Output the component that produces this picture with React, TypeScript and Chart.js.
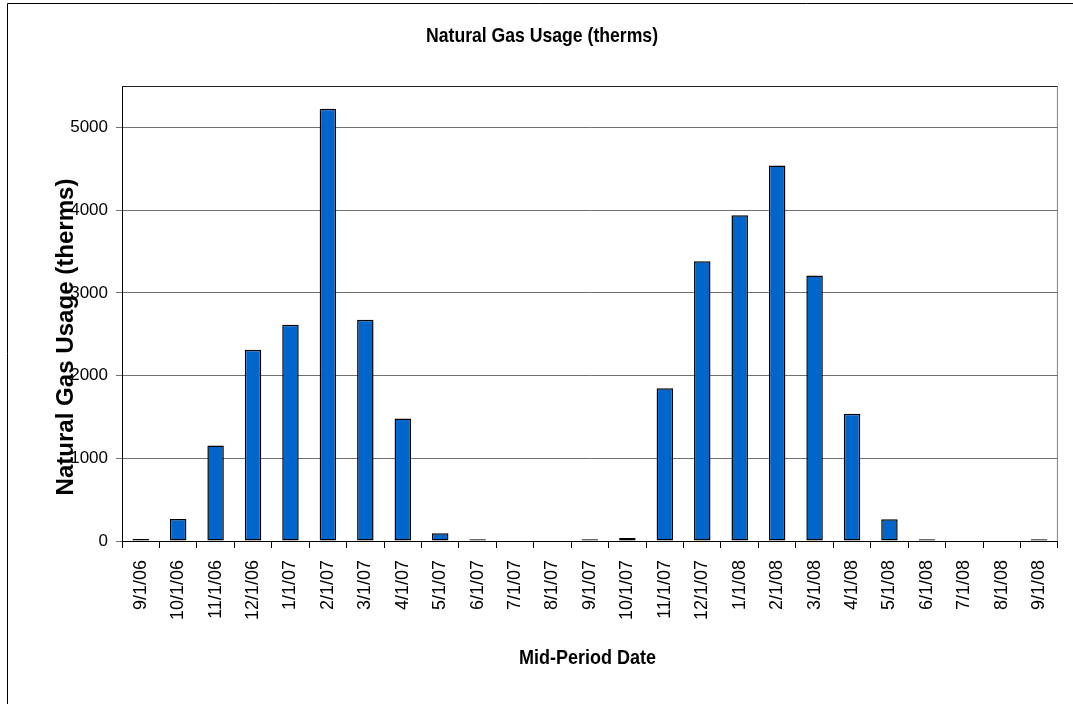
import React, { useEffect, useRef } from "react";
import { Chart, registerables } from "chart.js";

Chart.register(...registerables);

const dateLabels: string[] = [
  "9/1/06", "10/1/06", "11/1/06", "12/1/06", "1/1/07", "2/1/07", "3/1/07", "4/1/07",
  "5/1/07", "6/1/07", "7/1/07", "8/1/07", "9/1/07", "10/1/07", "11/1/07", "12/1/07",
  "1/1/08", "2/1/08", "3/1/08", "4/1/08", "5/1/08", "6/1/08", "7/1/08", "8/1/08", "9/1/08",
];

const gasUsage: number[] = [
  25, 266, 1153, 2311, 2613, 5226, 2673, 1480,
  93, 22, 0, 0, 22, 35, 1847, 3382,
  3938, 4540, 3209, 1537, 262, 22, 0, 0, 22,
];

const yTickValues: number[] = [0, 1000, 2000, 3000, 4000, 5000];
const yMax = 5500;

const chartTitle = "Natural Gas Usage (therms)";
const xAxisTitle = "Mid-Period Date";
const yAxisTitle = "Natural Gas Usage (therms)";

const FONT = "'Liberation Sans', Arial, Helvetica, sans-serif";

const decorPlugin = {
  id: "decor",
  beforeDraw(chart: any) {
    const ctx = chart.ctx;
    ctx.save();
    ctx.fillStyle = "#ffffff";
    ctx.fillRect(0, 0, chart.width, chart.height);
    ctx.restore();
  },
  afterDraw(chart: any) {
    const ctx = chart.ctx;
    const a = chart.chartArea;
    ctx.save();
    // outer frame (left and top edges visible)
    ctx.strokeStyle = "#000000";
    ctx.lineWidth = 1;
    ctx.beginPath();
    ctx.moveTo(7.5, chart.height);
    ctx.lineTo(7.5, 3.5);
    ctx.lineTo(chart.width, 3.5);
    ctx.stroke();

    // plot area border: top and right
    ctx.beginPath();
    ctx.strokeStyle = "#202020";
    ctx.moveTo(a.left, a.top + 0.5);
    ctx.lineTo(a.right, a.top + 0.5);
    ctx.stroke();
    ctx.beginPath();
    ctx.strokeStyle = "#808080";
    ctx.moveTo(a.right - 0.5, a.top);
    ctx.lineTo(a.right - 0.5, a.bottom);
    ctx.stroke();

    ctx.fillStyle = "#000000";
    // chart title (slightly condensed)
    ctx.font = `bold 21px ${FONT}`;
    ctx.textAlign = "center";
    ctx.textBaseline = "alphabetic";
    let w = ctx.measureText(chartTitle).width;
    ctx.save();
    ctx.translate(542, 42);
    ctx.scale(232 / w, 1);
    ctx.fillText(chartTitle, 0, 0);
    ctx.restore();

    // x axis title
    ctx.font = `bold 20px ${FONT}`;
    ctx.textAlign = "left";
    ctx.save();
    ctx.translate(519, 664);
    ctx.scale(0.9, 1);
    ctx.fillText(xAxisTitle, 0, 0);
    ctx.restore();

    // y axis title
    ctx.font = `bold 24px ${FONT}`;
    ctx.textAlign = "center";
    ctx.save();
    ctx.translate(73, 337);
    ctx.rotate(-Math.PI / 2);
    w = ctx.measureText(yAxisTitle).width;
    ctx.scale(317 / w, 1);
    ctx.fillText(yAxisTitle, 0, 0);
    ctx.restore();

    ctx.restore();
  },
};

export default function App() {
  const canvasRef = useRef<HTMLCanvasElement | null>(null);

  useEffect(() => {
    if (!canvasRef.current) return;
    const chart = new Chart(canvasRef.current, {
      type: "bar",
      data: {
        labels: dateLabels,
        datasets: [
          {
            label: "Natural Gas Usage (therms)",
            data: gasUsage,
            backgroundColor: "#0066CC",
            borderColor: "#000000",
            borderWidth: 1.5,
            borderSkipped: false,
            barPercentage: 0.44,
            categoryPercentage: 1.0,
          },
        ],
      },
      options: {
        responsive: false,
        maintainAspectRatio: false,
        animation: false,
        devicePixelRatio: 1,
        layout: { padding: { top: 86, right: 10, left: 0, bottom: 0 } },
        plugins: {
          legend: { display: false },
          title: { display: false },
          tooltip: { enabled: false },
        },
        scales: {
          x: {
            offset: true,
            grid: {
              offset: true,
              drawOnChartArea: false,
              drawTicks: true,
              tickLength: 7,
              color: "#000000",
            },
            border: { display: true, color: "#000000", width: 1 },
            ticks: {
              autoSkip: false,
              minRotation: 90,
              maxRotation: 90,
              padding: 12,
              color: "#000000",
              font: { family: FONT, size: 18 },
            },
            afterFit(scale: any) {
              scale.height = 163;
            },
          },
          y: {
            min: 0,
            max: yMax,
            afterBuildTicks(scale: any) {
              scale.ticks = yTickValues.map((v) => ({ value: v }));
            },
            grid: {
              color: "#707070",
              drawTicks: true,
              tickLength: 6,
            },
            border: { display: true, color: "#000000", width: 1 },
            ticks: {
              padding: 8,
              color: "#000000",
              font: { family: FONT, size: 17 },
              callback: (v: any) => String(v),
            },
            afterFit(scale: any) {
              scale.width = 122;
            },
          },
        },
      },
      plugins: [decorPlugin],
    });
    return () => chart.destroy();
  }, []);

  return (
    <div style={{ position: "absolute", left: 0, top: 0, width: 1073, height: 704, background: "#fff" }}>
      <canvas ref={canvasRef} width={1073} height={704} style={{ display: "block", width: 1073, height: 704 }} />
    </div>
  );
}
